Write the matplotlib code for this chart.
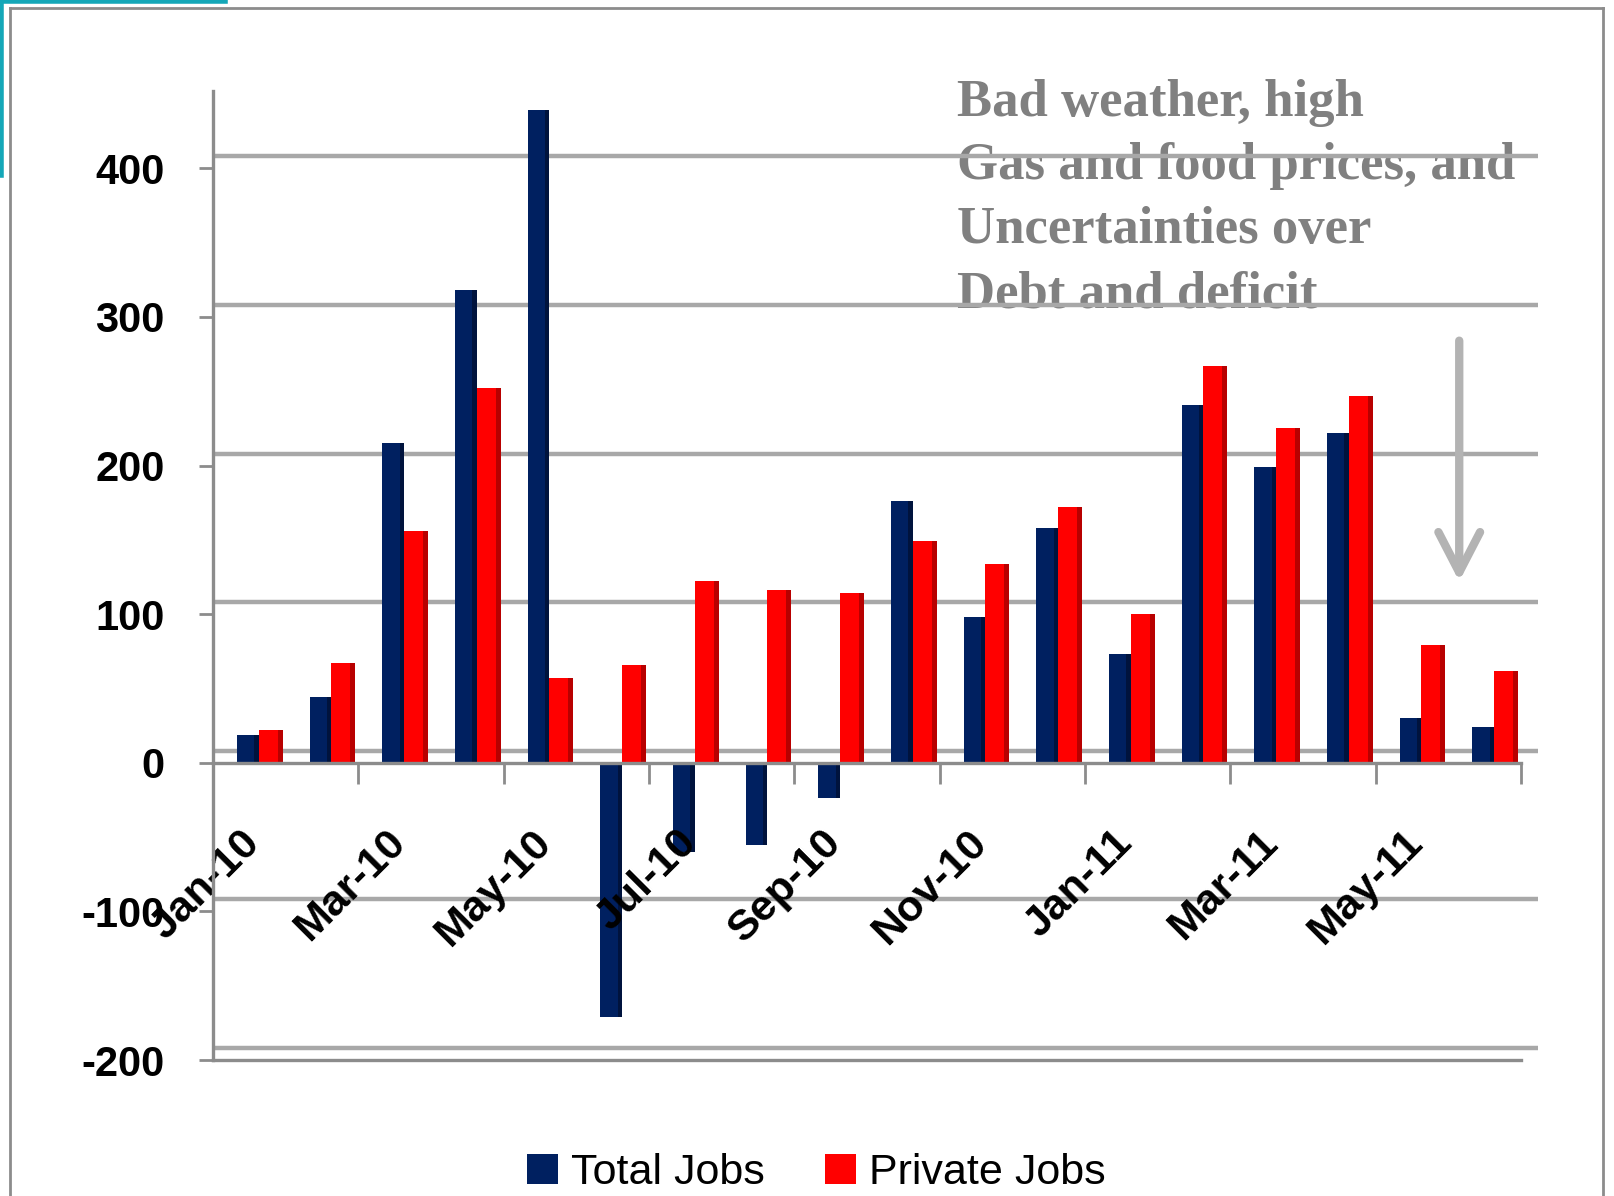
import matplotlib
matplotlib.use("Agg")
import matplotlib.pyplot as plt
import matplotlib.transforms as mtransforms
from matplotlib.lines import Line2D
from matplotlib.patches import Patch
import numpy as np

plt.rcParams['font.family'] = ['Liberation Sans', 'DejaVu Sans']

months = ["Jan-10", "Feb-10", "Mar-10", "Apr-10", "May-10", "Jun-10", "Jul-10", "Aug-10", "Sep-10",
          "Oct-10", "Nov-10", "Dec-10", "Jan-11", "Feb-11", "Mar-11", "Apr-11", "May-11", "Jun-11"]
total_jobs = [19, 44, 215, 318, 439, -171, -60, -55, -24, 176, 98, 158, 73, 241, 199, 222, 30, 24]
private_jobs = [22, 67, 156, 252, 57, 66, 122, 116, 114, 149, 134, 172, 100, 267, 225, 247, 79, 62]
y_ticks = [-200, -100, 0, 100, 200, 300, 400]
annotation_lines = ["Bad weather, high", "Gas and food prices, and",
                    "Uncertainties over", "Debt and deficit"]

NAVY = '#002060'
RED = '#ff0000'
GRID = '#a8a8a8'
AXIS = '#8c8c8c'

W, H = 1614, 1196
fig = plt.figure(figsize=(W / 100, H / 100), dpi=100)
fig.patch.set_facecolor('white')

ax = fig.add_axes([213 / W, 1 - 1060 / H, (1521 - 213) / W, (1060 - 91) / H])
ax.set_facecolor('none')
x = np.arange(len(months))
ax.set_xlim(-0.5, 17.5)
ax.set_ylim(-200, 452)

# annotation text (drawn beneath the gridlines)
baselines = [116, 179, 243, 307]
for line, yb in zip(annotation_lines, baselines):
    ax.text(957 / W, 1 - yb / H, line, fontsize=38, fontweight='bold',
            family=['Liberation Serif', 'DejaVu Serif'], color='#808080',
            ha='left', va='baseline', transform=fig.transFigure, zorder=0.3)

# back-wall gridlines (slightly offset upward as in the 3D chart)
grid_tr = mtransforms.offset_copy(ax.transData, fig=fig, x=0, y=12, units='dots')
for v in y_ticks:
    ax.plot([-0.5, 17.73], [v, v], color=GRID, lw=3.2, transform=grid_tr,
            zorder=0.5, clip_on=False, solid_capstyle='butt')

# bars
wt, wp = 0.30, 0.33
xt = x - 0.02
xp = x + 0.295
ax.bar(xt, total_jobs, width=wt, color=NAVY, zorder=1.1)
ax.bar(xp, private_jobs, width=wp, color=RED, zorder=1.3)
# darker side faces for a 3D look
ax.bar(xt + wt / 2 - 0.03, total_jobs, width=0.06, color='#00133d', zorder=1.2)
ax.bar(xp + wp / 2 - 0.035, private_jobs, width=0.07, color='#b80000', zorder=1.4)

# axes styling
for s in ['top', 'right']:
    ax.spines[s].set_visible(False)
ax.spines['left'].set_color(AXIS)
ax.spines['left'].set_linewidth(2.4)
ax.spines['bottom'].set_position(('data', 0))
ax.spines['bottom'].set_color(AXIS)
ax.spines['bottom'].set_linewidth(2.4)
ax.spines['bottom'].set_zorder(4)
# floor line at the bottom
ax.plot([-0.5, 17.5], [-200, -200], color=AXIS, lw=2.4, zorder=4, clip_on=False)

ax.set_yticks(y_ticks)
ax.set_yticklabels([str(v) for v in y_ticks], fontsize=30, fontweight='bold')
ax.tick_params(axis='y', length=10, width=2, color=AXIS, pad=25)

label_idx = list(range(0, len(months), 2))
ax.set_xticks([i + 0.26 for i in label_idx])
ax.set_xticklabels([months[i] for i in label_idx], fontsize=31, fontweight='bold',
                   rotation=45, ha='right')
ax.tick_params(axis='x', which='major', length=0, pad=43)
ax.set_xticks(np.arange(1.5, 18, 2), minor=True)
ax.tick_params(axis='x', which='minor', length=15, width=2, color=AXIS, direction='out')

# arrow
ax.annotate('', xy=(16.65, 122), xytext=(16.65, 284),
            arrowprops=dict(arrowstyle='->,head_length=1.45,head_width=0.75',
                            color='#b3b3b3', lw=6, mutation_scale=20,
                            shrinkA=0, shrinkB=0, capstyle='round'),
            zorder=1)

# legend
handles = [Patch(facecolor=NAVY, edgecolor='none', label='Total Jobs'),
           Patch(facecolor=RED, edgecolor='none', label='Private Jobs')]
fig.legend(handles=handles, loc='center', bbox_to_anchor=(0.506, 0.019), ncol=2,
           frameon=False, fontsize=31, handlelength=0.72, handleheight=0.7,
           handletextpad=0.3, columnspacing=1.4)

# slide frame
fig.add_artist(Line2D([10 / W, 10 / W], [0, 1 - 8 / H], color=AXIS, lw=2, transform=fig.transFigure))
fig.add_artist(Line2D([10 / W, 1603 / W], [1 - 8 / H, 1 - 8 / H], color=AXIS, lw=2, transform=fig.transFigure))
fig.add_artist(Line2D([1603 / W, 1603 / W], [0, 1 - 8 / H], color=AXIS, lw=2, transform=fig.transFigure))
# teal corner decoration
fig.add_artist(Line2D([1 / W, 1 / W], [1 - 175 / H, 1], color='#14a7b8', lw=4, transform=fig.transFigure))
fig.add_artist(Line2D([0, 225 / W], [1 - 1 / H, 1 - 1 / H], color='#14a7b8', lw=4, transform=fig.transFigure))

fig.savefig('out.png', dpi=100)
